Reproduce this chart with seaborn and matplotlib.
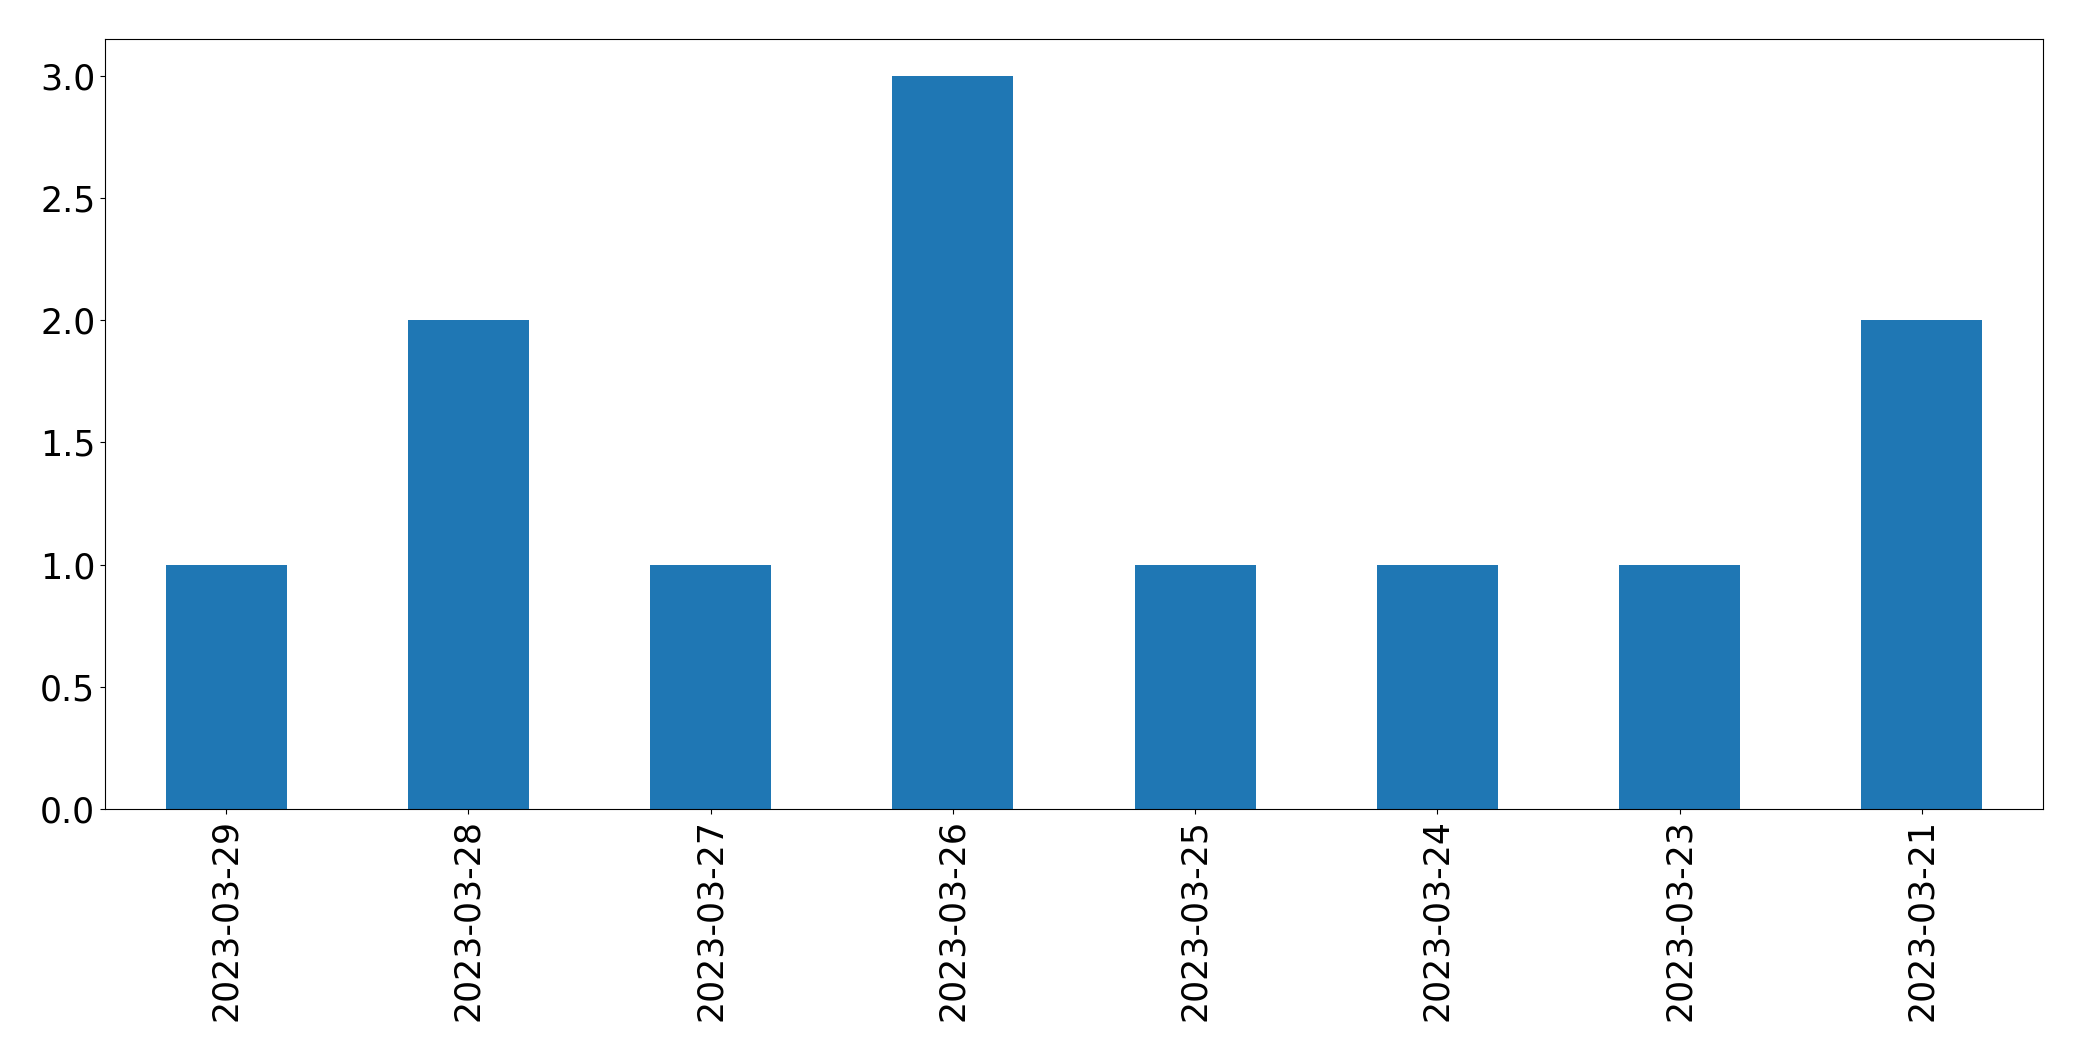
import seaborn as sns
import matplotlib.pyplot as plt
import pandas as pd

dates = ["2023-03-29", "2023-03-28", "2023-03-27", "2023-03-26",
         "2023-03-25", "2023-03-24", "2023-03-23", "2023-03-21"]
counts = [1, 2, 1, 3, 1, 1, 1, 2]

df = pd.DataFrame({"date": dates, "count": counts})

fig = plt.figure(figsize=(20.82, 10.61), dpi=100)
ax = fig.add_axes([105 / 2082, 1 - 809 / 1061, (2043 - 105) / 2082, (809 - 39) / 1061])

sns.barplot(data=df, x="date", y="count", order=dates, color="#1f77b4",
            saturation=1, width=0.5, ax=ax)

ax.set_xlim(-0.5, len(dates) - 0.5)
ax.set_ylim(0, 3.15)
ax.set_xlabel("")
ax.set_ylabel("")
ax.tick_params(axis="both", labelsize=25)
ax.tick_params(axis="x", labelrotation=90)

fig.savefig("out.png", dpi=100)
